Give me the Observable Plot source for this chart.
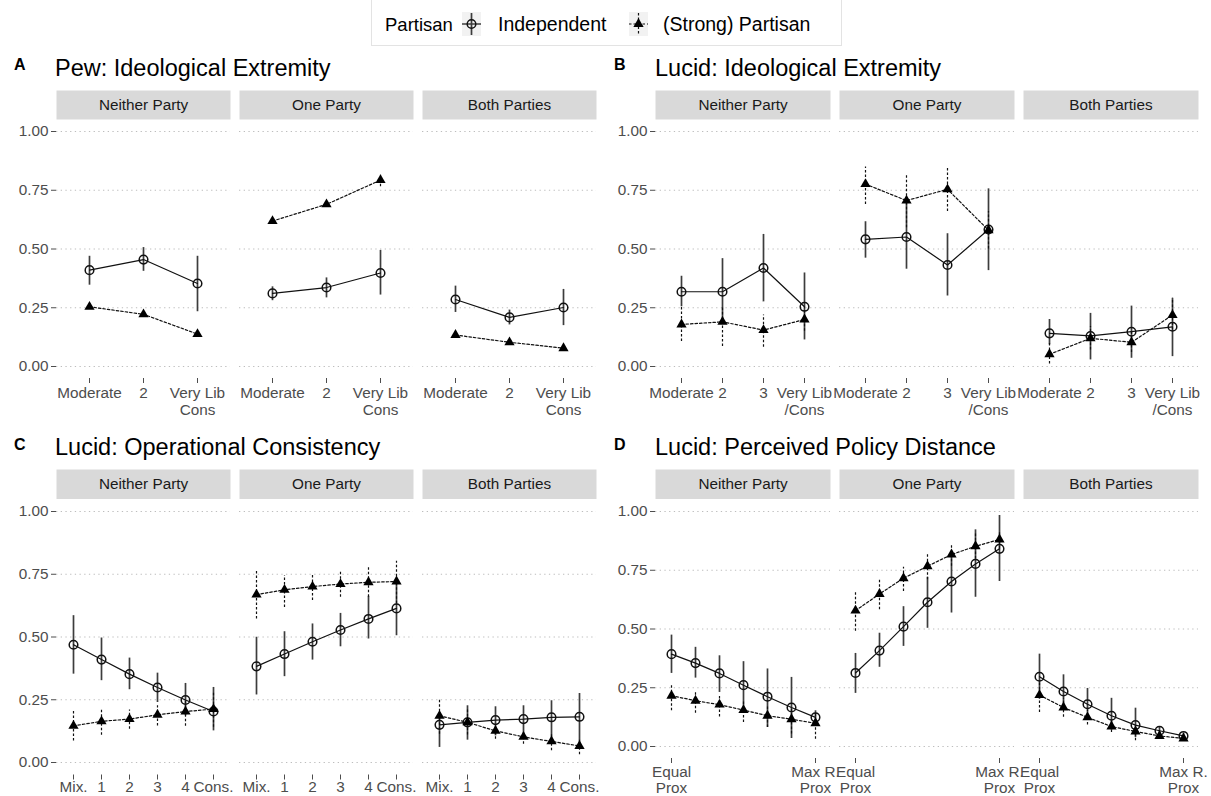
<!DOCTYPE html>
<html><head><meta charset="utf-8">
<script src="https://cdn.jsdelivr.net/npm/d3@7"></script>
<script src="https://cdn.jsdelivr.net/npm/@observablehq/plot@0.6"></script>
<style>
body{margin:0;background:#fff;font-family:"Liberation Sans",Arial,Helvetica,sans-serif;}
#root{position:relative;width:1211px;height:796px;overflow:hidden;background:#fff;}
.pl{position:absolute;}
.pl svg{overflow:visible;}
#overlay{position:absolute;left:0;top:0;pointer-events:none;}
</style></head><body><div id="root"></div>
<script>
const FONT = '"Liberation Sans", Arial, Helvetica, sans-serif';
const groups = ["Neither Party", "One Party", "Both Parties"];
const seriesNames = ["Independent", "(Strong) Partisan"];
const yTicks = [0, 0.25, 0.5, 0.75, 1];

// Panel A: Pew ideological extremity
const levelsA = ["Moderate", "2", "Very Lib\nCons"];
const aIndEst = [[0.41, 0.455, 0.353], [0.311, 0.336, 0.398], [0.285, 0.209, 0.251]];
const aIndLo  = [[0.346, 0.405, 0.233], [0.28, 0.292, 0.304], [0.23, 0.177, 0.174]];
const aIndHi  = [[0.469, 0.506, 0.469], [0.339, 0.377, 0.494], [0.342, 0.24, 0.328]];
const aParEst = [[0.254, 0.222, 0.138], [0.619, 0.69, 0.793], [0.134, 0.103, 0.078]];
const aParLo  = [[0.243, 0.212, 0.127], [0.607, 0.678, 0.765], [0.124, 0.094, 0.068]];
const aParHi  = [[0.265, 0.232, 0.149], [0.631, 0.702, 0.815], [0.144, 0.112, 0.088]];

// Panel B: Lucid ideological extremity
const levelsB = ["Moderate", "2", "3", "Very Lib\n/Cons"];
const bIndEst = [[0.318, 0.318, 0.419, 0.254], [0.541, 0.551, 0.432, 0.583], [0.141, 0.13, 0.148, 0.169]];
const bIndLo  = [[0.254, 0.19, 0.275, 0.113], [0.461, 0.414, 0.30, 0.408], [0.092, 0.028, 0.035, 0.042]];
const bIndHi  = [[0.384, 0.459, 0.562, 0.398], [0.616, 0.70, 0.565, 0.756], [0.2, 0.226, 0.257, 0.29]];
const bParEst = [[0.179, 0.19, 0.155, 0.2], [0.776, 0.706, 0.754, 0.58], [0.052, 0.12, 0.103, 0.219]];
const bParLo  = [[0.106, 0.085, 0.082, 0.15], [0.689, 0.59, 0.66, 0.5], [0.011, 0.07, 0.06, 0.155]];
const bParHi  = [[0.254, 0.254, 0.219, 0.25], [0.849, 0.82, 0.844, 0.66], [0.099, 0.17, 0.15, 0.29]];

// Panel C: Lucid operational consistency
const levelsC = ["Mix.", "1", "2", "3", "4", "Cons."];
const cIndEst = [[0.469, 0.41, 0.352, 0.299, 0.249, 0.203], [0.383, 0.432, 0.481, 0.528, 0.572, 0.614], [0.15, 0.16, 0.169, 0.173, 0.18, 0.182]];
const cIndLo  = [[0.352, 0.326, 0.29, 0.239, 0.186, 0.126], [0.269, 0.342, 0.408, 0.461, 0.492, 0.505], [0.06, 0.089, 0.106, 0.106, 0.084, 0.073]];
const cIndHi  = [[0.585, 0.496, 0.416, 0.356, 0.315, 0.299], [0.499, 0.521, 0.552, 0.594, 0.662, 0.725], [0.193, 0.226, 0.222, 0.226, 0.246, 0.275]];
const cParEst = [[0.146, 0.164, 0.173, 0.19, 0.203, 0.213], [0.669, 0.688, 0.701, 0.711, 0.718, 0.721], [0.186, 0.16, 0.126, 0.102, 0.084, 0.066]];
const cParLo  = [[0.086, 0.109, 0.132, 0.145, 0.144, 0.14], [0.572, 0.618, 0.645, 0.658, 0.658, 0.632], [0.113, 0.11, 0.093, 0.073, 0.047, 0.031]];
const cParHi  = [[0.209, 0.21, 0.209, 0.226, 0.249, 0.28], [0.765, 0.745, 0.751, 0.762, 0.781, 0.802], [0.253, 0.21, 0.146, 0.126, 0.113, 0.089]];

// Panel D: Lucid perceived policy distance
const levelsD = ["Equal\nProx", "2", "3", "4", "5", "6", "Max R.\nProx"];
const ticksD = ["Equal\nProx", "Max R.\nProx"];
const dIndEst = [[0.393, 0.355, 0.311, 0.261, 0.212, 0.166, 0.124], [0.313, 0.408, 0.51, 0.614, 0.702, 0.777, 0.841], [0.297, 0.234, 0.18, 0.131, 0.091, 0.067, 0.045]];
const dIndLo  = [[0.311, 0.291, 0.23, 0.142, 0.081, 0.034, 0.098], [0.226, 0.337, 0.426, 0.503, 0.568, 0.635, 0.702], [0.202, 0.163, 0.124, 0.07, 0.038, 0.053, 0.034]];
const dIndHi  = [[0.474, 0.422, 0.386, 0.361, 0.33, 0.294, 0.152], [0.396, 0.482, 0.595, 0.72, 0.805, 0.922, 0.983], [0.393, 0.305, 0.247, 0.205, 0.163, 0.081, 0.057]];
const dParEst = [[0.216, 0.195, 0.178, 0.155, 0.131, 0.116, 0.099], [0.578, 0.649, 0.716, 0.767, 0.817, 0.852, 0.881], [0.219, 0.166, 0.124, 0.085, 0.064, 0.045, 0.034]];
const dParLo  = [[0.152, 0.142, 0.126, 0.102, 0.081, 0.053, 0.031], [0.49, 0.582, 0.66, 0.71, 0.767, 0.798, 0.841], [0.145, 0.124, 0.092, 0.06, 0.024, 0.03, 0.024]];
const dParHi  = [[0.259, 0.237, 0.219, 0.195, 0.169, 0.159, 0.138], [0.66, 0.71, 0.763, 0.822, 0.862, 0.905, 0.912], [0.273, 0.205, 0.155, 0.109, 0.088, 0.064, 0.044]];

const titles = [
  {letter: "A", text: "Pew: Ideological Extremity"},
  {letter: "B", text: "Lucid: Ideological Extremity"},
  {letter: "C", text: "Lucid: Operational Consistency"},
  {letter: "D", text: "Lucid: Perceived Policy Distance"}
];

function rows(levels, est, lo, hi) {
  const out = [];
  groups.forEach((g, gi) => levels.forEach((l, li) => {
    out.push({group: g, level: l, est: est[gi][li], lo: lo[gi][li], hi: hi[gi][li]});
  }));
  return out;
}

function panel(o) {
  const ind = rows(o.levels, o.indEst, o.indLo, o.indHi);
  const par = rows(o.levels, o.parEst, o.parLo, o.parHi);
  const stripH = o.stripH;
  return Plot.plot({
    width: o.width, height: o.height,
    marginLeft: 55, marginRight: o.marginRight, marginTop: 0, marginBottom: o.height - o.panelBottom,
    style: {fontFamily: FONT, fontSize: "15.3px", background: "transparent", overflow: "visible"},
    fx: {domain: groups, paddingInner: 0.05, paddingOuter: 0, axis: null, label: null},
    x: {type: "point", domain: o.levels, padding: 0.6, axis: null, label: null},
    y: {domain: [0, 1], insetTop: o.insetTop, insetBottom: o.insetBottom, axis: null, label: null},
    marks: [
      Plot.frame({fill: "#d9d9d9", insetBottom: o.panelBottom - stripH}),
      Plot.text(groups, {fx: d => d, text: d => d, frameAnchor: "top", dy: stripH / 2, lineAnchor: "middle", fontSize: 15.3, fill: "#1a1a1a"}),
      Plot.gridY(yTicks, {stroke: "#bdbdbd", strokeOpacity: 1, strokeWidth: 1.1, strokeDasharray: "1.3,3.4"}),
      Plot.axisY(yTicks, {tickFormat: d3.format(".2f"), tickSize: 5, tickPadding: 3, color: "#4d4d4d", fontSize: 15.3, label: null}),
      Plot.axisX(o.ticks, {tickSize: 5, tickPadding: o.tickPadding, color: "#4d4d4d", fontSize: 15.3, lineHeight: o.lineHeight, label: null}),
      Plot.ruleX(ind, {fx: "group", x: "level", y1: "lo", y2: "hi", stroke: "#3d3d3d", strokeWidth: 1.7}),
      Plot.line(ind, {fx: "group", x: "level", y: "est", stroke: "#111", strokeWidth: 1.2}),
      Plot.dot(ind, {fx: "group", x: "level", y: "est", r: 4.3, stroke: "#111", fill: "none", strokeWidth: 1.5}),
      Plot.ruleX(par, {fx: "group", x: "level", y1: "lo", y2: "hi", stroke: "#111", strokeWidth: 1.2, strokeDasharray: "2.5,2"}),
      Plot.line(par, {fx: "group", x: "level", y: "est", stroke: "#111", strokeWidth: 1.2, strokeDasharray: "2.5,2"}),
      Plot.dot(par, {fx: "group", x: "level", y: "est", r: 3.8, symbol: "triangle", fill: "#000", stroke: "none"})
    ]
  });
}

const root = document.getElementById("root");
function place(node, left, top) {
  const d = document.createElement("div");
  d.className = "pl";
  d.style.left = left + "px";
  d.style.top = top + "px";
  d.appendChild(node);
  root.appendChild(d);
}

const row1 = {height: 330, panelBottom: 288, insetTop: 41, insetBottom: 12, stripH: 29, tickPadding: 3, lineHeight: 1.1};
place(panel({...row1, width: 600, marginRight: 3, levels: levelsA, ticks: levelsA,
  indEst: aIndEst, indLo: aIndLo, indHi: aIndHi, parEst: aParEst, parLo: aParLo, parHi: aParHi}), 0, 90);
place(panel({...row1, width: 611, marginRight: 13, levels: levelsB, ticks: levelsB,
  indEst: bIndEst, indLo: bIndLo, indHi: bIndHi, parEst: bParEst, parLo: bParLo, parHi: bParHi}), 600, 90);
place(panel({height: 327, panelBottom: 305.5, insetTop: 42, insetBottom: 12.5, stripH: 29.5, tickPadding: 1, lineHeight: 1.05, width: 600, marginRight: 3, levels: levelsC, ticks: levelsC,
  indEst: cIndEst, indLo: cIndLo, indHi: cIndHi, parEst: cParEst, parLo: cParLo, parHi: cParHi}), 0, 469);
place(panel({height: 327, panelBottom: 289, insetTop: 42, insetBottom: 12, stripH: 29.5, tickPadding: 2, lineHeight: 1.04, width: 611, marginRight: 13, levels: levelsD, ticks: ticksD,
  indEst: dIndEst, indLo: dIndLo, indHi: dIndHi, parEst: dParEst, parLo: dParLo, parHi: dParHi}), 600, 469);

// Titles and legend overlay
const svg = d3.select(root).append("svg").attr("id", "overlay").attr("width", 1211).attr("height", 796)
  .style("font-family", FONT);
const titlePos = [[0, 70, 76], [600, 70, 76], [0, 450, 455], [600, 450, 455]];
titles.forEach((t, i) => {
  const [ox, ly, ty] = titlePos[i];
  svg.append("text").attr("x", ox + 14).attr("y", ly).attr("font-weight", "bold").attr("font-size", 16).attr("fill", "#000").text(t.letter);
  svg.append("text").attr("x", ox + 55).attr("y", ty).attr("font-size", 23.5).attr("fill", "#000").text(t.text);
});

// Legend
const lg = svg.append("g");
lg.append("rect").attr("x", 371.5).attr("y", -1).attr("width", 470).attr("height", 46.5).attr("fill", "#fff").attr("stroke", "#e3e3e3");
lg.append("text").attr("x", 385).attr("y", 31).attr("font-size", 18.5).attr("fill", "#000").text("Partisan");
const keys = [{x: 462, label: 498}, {x: 629, label: 663}];
keys.forEach((k, i) => {
  const g = lg.append("g").attr("transform", `translate(${k.x},12)`);
  g.append("rect").attr("width", 19).attr("height", 24).attr("fill", "#f2f2f2");
  const dash = i === 1 ? "2.5,2" : null;
  g.append("line").attr("x1", 0).attr("x2", 19).attr("y1", 12).attr("y2", 12).attr("stroke", "#111").attr("stroke-width", 1.2).attr("stroke-dasharray", dash);
  g.append("line").attr("x1", 9.5).attr("x2", 9.5).attr("y1", 1).attr("y2", 23).attr("stroke", i === 0 ? "#3d3d3d" : "#111").attr("stroke-width", i === 0 ? 1.7 : 1.2).attr("stroke-dasharray", dash);
  if (i === 0) {
    g.append("circle").attr("cx", 9.5).attr("cy", 12).attr("r", 4.3).attr("fill", "none").attr("stroke", "#111").attr("stroke-width", 1.5);
  } else {
    g.append("path").attr("transform", "translate(9.5,12)").attr("d", d3.symbol(d3.symbolTriangle, Math.PI * 3.8 * 3.8)()).attr("fill", "#000");
  }
  lg.append("text").attr("x", k.label).attr("y", 31).attr("font-size", 19.5).attr("fill", "#000").text(seriesNames[i]);
});
</script></body></html>
